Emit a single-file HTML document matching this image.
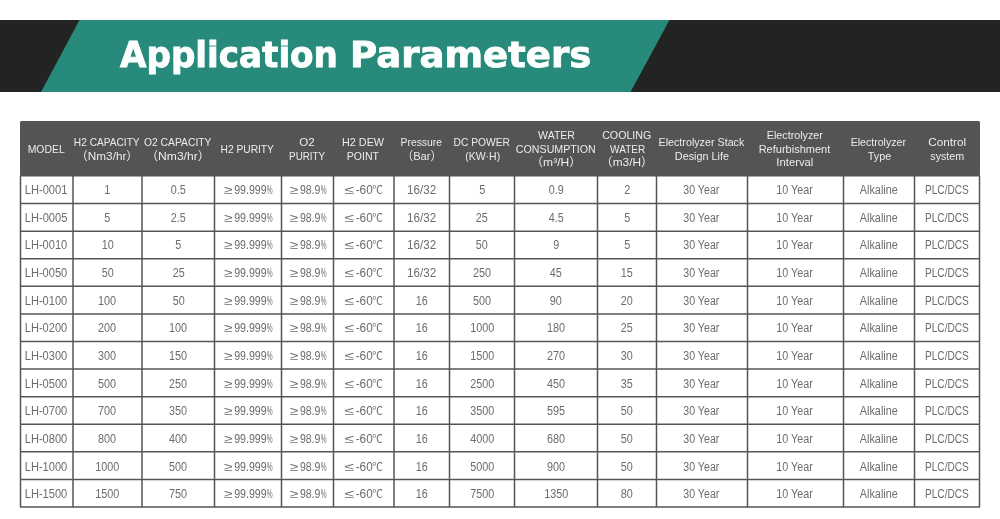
<!DOCTYPE html>
<html lang="en"><head><meta charset="utf-8"><title>Application Parameters</title><style>
html,body{margin:0;padding:0;background:#fff}
body{width:1000px;height:519px;position:relative;overflow:hidden;font-family:"Liberation Sans","Noto Sans CJK SC",sans-serif}
svg.bg{position:absolute;left:0;top:0}
.title{position:absolute;left:0;top:0;margin:0;font-family:"DejaVu Sans","Liberation Sans",sans-serif;font-weight:700;font-size:36.1px;line-height:44px;color:#fcfffe;white-space:nowrap;-webkit-text-stroke:0.9px #fcfffe}
.title span{position:absolute;display:inline-block;transform-origin:0 50%}
.c{position:absolute;text-align:center;white-space:nowrap;overflow:visible}
.h{color:#ececec;font-size:11.8px;line-height:13.6px}
.b{color:#6c6c6c;font-size:12.0px;line-height:27.583px;height:27.583px}
.t{display:inline-block;transform-origin:50% 50%}
.t i{font-style:normal;display:inline-block;transform-origin:0 50%}
.g{transform:scaleX(1.45);margin-right:4.6px}
.p{transform:scaleX(0.62);margin-right:-3.9px}
.d{font-size:11px;margin-left:-0.5px}
</style></head><body>
<svg class="bg" width="1000" height="519" viewBox="0 0 1000 519">
<rect x="0" y="20" width="1000" height="72" fill="#232323"/>
<polygon points="79.5,20 669.5,20 630.5,92 41,92" fill="#278a7a"/>
<rect x="20" y="121.0" width="960" height="55.5" rx="1.5" fill="#545454"/>
<g stroke="#555" stroke-width="1.5" fill="none">
<line x1="20.5" y1="176.0" x2="20.5" y2="507.0"/>
<line x1="73" y1="176.0" x2="73" y2="507.0"/>
<line x1="142" y1="176.0" x2="142" y2="507.0"/>
<line x1="214.5" y1="176.0" x2="214.5" y2="507.0"/>
<line x1="281.5" y1="176.0" x2="281.5" y2="507.0"/>
<line x1="333.5" y1="176.0" x2="333.5" y2="507.0"/>
<line x1="394" y1="176.0" x2="394" y2="507.0"/>
<line x1="449.5" y1="176.0" x2="449.5" y2="507.0"/>
<line x1="514.5" y1="176.0" x2="514.5" y2="507.0"/>
<line x1="597.5" y1="176.0" x2="597.5" y2="507.0"/>
<line x1="656.5" y1="176.0" x2="656.5" y2="507.0"/>
<line x1="747.5" y1="176.0" x2="747.5" y2="507.0"/>
<line x1="843.5" y1="176.0" x2="843.5" y2="507.0"/>
<line x1="914.5" y1="176.0" x2="914.5" y2="507.0"/>
<line x1="979.5" y1="176.0" x2="979.5" y2="507.0"/>
<line x1="20" y1="203.58" x2="980" y2="203.58"/>
<line x1="20" y1="231.17" x2="980" y2="231.17"/>
<line x1="20" y1="258.75" x2="980" y2="258.75"/>
<line x1="20" y1="286.33" x2="980" y2="286.33"/>
<line x1="20" y1="313.92" x2="980" y2="313.92"/>
<line x1="20" y1="341.50" x2="980" y2="341.50"/>
<line x1="20" y1="369.08" x2="980" y2="369.08"/>
<line x1="20" y1="396.67" x2="980" y2="396.67"/>
<line x1="20" y1="424.25" x2="980" y2="424.25"/>
<line x1="20" y1="451.83" x2="980" y2="451.83"/>
<line x1="20" y1="479.42" x2="980" y2="479.42"/>
<line x1="20" y1="507.00" x2="980" y2="507.00"/>
</g>
</svg>
<h1 class="title"><span id="tA" style="left:120.0px;top:32.5px;transform:scaleX(0.9468)">Application</span> <span id="tP" style="left:349.5px;top:32.5px;transform:scaleX(1.0265)">Parameters</span></h1>
<div class="c h" style="left:0.50px;width:92.50px;top:142.80px"><span class="t" id="s0" style="transform:translateX(-0.79px) scaleX(0.8808)">MODEL</span></div>
<div class="c h" style="left:53.00px;width:109.00px;top:136.00px"><span class="t" id="s1" style="transform:translateX(-0.50px) scaleX(0.8600)">H2 CAPACITY</span><br><span class="t" id="s2" style="transform:translateX(-0.05px) scaleX(0.9969)">（Nm3/hr）</span></div>
<div class="c h" style="left:122.00px;width:112.50px;top:136.00px"><span class="t" id="s3" style="transform:translateX(-0.87px) scaleX(0.8764)">O2 CAPACITY</span><br><span class="t" id="s4" style="transform:translateX(-0.24px) scaleX(1.0254)">（Nm3/hr）</span></div>
<div class="c h" style="left:194.50px;width:107.00px;top:142.80px"><span class="t" id="s5" style="transform:translateX(-0.59px) scaleX(0.8669)">H2 PURITY</span></div>
<div class="c h" style="left:261.50px;width:92.00px;top:136.00px"><span class="t" id="s6" style="transform:translateX(-0.83px) scaleX(0.9802)">O2</span><br><span class="t" id="s7" style="transform:translateX(-0.52px) scaleX(0.8333)">PURITY</span></div>
<div class="c h" style="left:313.50px;width:100.50px;top:136.00px"><span class="t" id="s8" style="transform:translateX(-0.91px) scaleX(0.9145)">H2 DEW</span><br><span class="t" id="s9" style="transform:translateX(-1.08px) scaleX(0.8945)">POINT</span></div>
<div class="c h" style="left:374.00px;width:95.50px;top:136.00px"><span class="t" id="s10" style="transform:translateX(-0.37px) scaleX(0.8767)">Pressure</span><br><span class="t" id="s11" style="transform:translateX(-0.14px) scaleX(0.9485)">（Bar）</span></div>
<div class="c h" style="left:429.50px;width:105.00px;top:136.00px"><span class="t" id="s12" style="transform:translateX(-0.69px) scaleX(0.8689)">DC POWER</span><br><span class="t" id="s13" style="transform:translateX(1.01px) scaleX(0.8903)">(KW·H)</span></div>
<div class="c h" style="left:494.50px;width:123.00px;top:129.20px"><span class="t" id="s14" style="transform:translateX(0.88px) scaleX(0.8927)">WATER</span><br><span class="t" id="s15" style="transform:translateX(-0.42px) scaleX(0.9037)">CONSUMPTION</span><br><span class="t" id="s16" style="transform:translateX(0.58px) scaleX(1.0200)">（m³/H）</span></div>
<div class="c h" style="left:577.50px;width:99.00px;top:129.20px"><span class="t" id="s17" style="transform:translateX(-0.47px) scaleX(0.9043)">COOLING</span><br><span class="t" id="s18" style="transform:translateX(1.00px) scaleX(0.8502)">WATER</span><br><span class="t" id="s19" style="transform:translateX(0.01px) scaleX(1.0064)">（m3/H）</span></div>
<div class="c h" style="left:636.50px;width:131.00px;top:136.00px"><span class="t" id="s20" style="transform:translateX(-0.79px) scaleX(0.9092)">Electrolyzer Stack</span><br><span class="t" id="s21" style="transform:translateX(0.42px) scaleX(0.9174)">Design Life</span></div>
<div class="c h" style="left:727.50px;width:136.00px;top:129.20px"><span class="t" id="s22" style="transform:translateX(-0.99px) scaleX(0.9104)">Electrolyzer</span><br><span class="t" id="s23" style="transform:translateX(-0.89px) scaleX(0.9341)">Refurbishment</span><br><span class="t" id="s24" style="transform:translateX(-0.51px) scaleX(0.9556)">Interval</span></div>
<div class="c h" style="left:823.50px;width:111.00px;top:136.00px"><span class="t" id="s25" style="transform:translateX(-0.49px) scaleX(0.8977)">Electrolyzer</span><br><span class="t" id="s26" style="transform:translateX(0.65px) scaleX(0.9193)">Type</span></div>
<div class="c h" style="left:894.50px;width:105.00px;top:136.00px"><span class="t" id="s27" style="transform:translateX(0.21px) scaleX(0.9971)">Control</span><br><span class="t" id="s28" style="transform:translateX(0.57px) scaleX(0.9087)">system</span></div>
<div class="c b" style="left:20.50px;width:52.50px;top:177.00px"><span class="t" id="s29" style="transform:translateX(-0.96px) scaleX(0.9255)">LH-0001</span></div>
<div class="c b" style="left:73.00px;width:69.00px;top:177.00px"><span class="t" id="s30" style="transform:translateX(0.00px) scaleX(0.9000)">1</span></div>
<div class="c b" style="left:142.00px;width:72.50px;top:177.00px"><span class="t" id="s31" style="transform:translateX(0.00px) scaleX(0.9000)">0.5</span></div>
<div class="c b" style="left:214.50px;width:67.00px;top:177.00px"><span class="t" id="s32" style="transform:translateX(0.15px) scaleX(0.8825)"><i class="g">≥</i>99.999<i class="p">%</i></span></div>
<div class="c b" style="left:281.50px;width:52.00px;top:177.00px"><span class="t" id="s33" style="transform:translateX(0.54px) scaleX(0.8785)"><i class="g">≥</i>98.9<i class="p">%</i></span></div>
<div class="c b" style="left:333.50px;width:60.50px;top:177.00px"><span class="t" id="s34" style="transform:translateX(0.34px) scaleX(0.9849)"><i class="g">≤</i>-60<i class="d">℃</i></span></div>
<div class="c b" style="left:394.00px;width:55.50px;top:177.00px"><span class="t" id="s35" style="transform:translateX(-0.43px) scaleX(0.9668)">16/32</span></div>
<div class="c b" style="left:449.50px;width:65.00px;top:177.00px"><span class="t" id="s36" style="transform:translateX(0.00px) scaleX(0.9000)">5</span></div>
<div class="c b" style="left:514.50px;width:83.00px;top:177.00px"><span class="t" id="s37" style="transform:translateX(0.00px) scaleX(0.9000)">0.9</span></div>
<div class="c b" style="left:597.50px;width:59.00px;top:177.00px"><span class="t" id="s38" style="transform:translateX(0.00px) scaleX(0.9000)">2</span></div>
<div class="c b" style="left:656.50px;width:91.00px;top:177.00px"><span class="t" id="s39" style="transform:translateX(-1.05px) scaleX(0.8862)">30 Year</span></div>
<div class="c b" style="left:747.50px;width:96.00px;top:177.00px"><span class="t" id="s40" style="transform:translateX(-0.86px) scaleX(0.8944)">10 Year</span></div>
<div class="c b" style="left:843.50px;width:71.00px;top:177.00px"><span class="t" id="s41" style="transform:translateX(-0.24px) scaleX(0.9023)">Alkaline</span></div>
<div class="c b" style="left:914.50px;width:65.00px;top:177.00px"><span class="t" id="s42" style="transform:translateX(-0.13px) scaleX(0.8422)">PLC/DCS</span></div>
<div class="c b" style="left:20.50px;width:52.50px;top:204.65px"><span class="t" id="s43" style="transform:translateX(-0.96px) scaleX(0.9257)">LH-0005</span></div>
<div class="c b" style="left:73.00px;width:69.00px;top:204.65px"><span class="t" id="s44" style="transform:translateX(0.00px) scaleX(0.9000)">5</span></div>
<div class="c b" style="left:142.00px;width:72.50px;top:204.65px"><span class="t" id="s45" style="transform:translateX(0.00px) scaleX(0.9000)">2.5</span></div>
<div class="c b" style="left:214.50px;width:67.00px;top:204.65px"><span class="t" id="s46" style="transform:translateX(0.15px) scaleX(0.8825)"><i class="g">≥</i>99.999<i class="p">%</i></span></div>
<div class="c b" style="left:281.50px;width:52.00px;top:204.65px"><span class="t" id="s47" style="transform:translateX(0.54px) scaleX(0.8785)"><i class="g">≥</i>98.9<i class="p">%</i></span></div>
<div class="c b" style="left:333.50px;width:60.50px;top:204.65px"><span class="t" id="s48" style="transform:translateX(0.34px) scaleX(0.9849)"><i class="g">≤</i>-60<i class="d">℃</i></span></div>
<div class="c b" style="left:394.00px;width:55.50px;top:204.65px"><span class="t" id="s49" style="transform:translateX(-0.43px) scaleX(0.9668)">16/32</span></div>
<div class="c b" style="left:449.50px;width:65.00px;top:204.65px"><span class="t" id="s50" style="transform:translateX(0.00px) scaleX(0.9000)">25</span></div>
<div class="c b" style="left:514.50px;width:83.00px;top:204.65px"><span class="t" id="s51" style="transform:translateX(0.00px) scaleX(0.9000)">4.5</span></div>
<div class="c b" style="left:597.50px;width:59.00px;top:204.65px"><span class="t" id="s52" style="transform:translateX(0.00px) scaleX(0.9000)">5</span></div>
<div class="c b" style="left:656.50px;width:91.00px;top:204.65px"><span class="t" id="s53" style="transform:translateX(-1.05px) scaleX(0.8862)">30 Year</span></div>
<div class="c b" style="left:747.50px;width:96.00px;top:204.65px"><span class="t" id="s54" style="transform:translateX(-0.86px) scaleX(0.8944)">10 Year</span></div>
<div class="c b" style="left:843.50px;width:71.00px;top:204.65px"><span class="t" id="s55" style="transform:translateX(-0.24px) scaleX(0.9023)">Alkaline</span></div>
<div class="c b" style="left:914.50px;width:65.00px;top:204.65px"><span class="t" id="s56" style="transform:translateX(-0.13px) scaleX(0.8422)">PLC/DCS</span></div>
<div class="c b" style="left:20.50px;width:52.50px;top:232.31px"><span class="t" id="s57" style="transform:translateX(-1.01px) scaleX(0.9233)">LH-0010</span></div>
<div class="c b" style="left:73.00px;width:69.00px;top:232.31px"><span class="t" id="s58" style="transform:translateX(0.00px) scaleX(0.9000)">10</span></div>
<div class="c b" style="left:142.00px;width:72.50px;top:232.31px"><span class="t" id="s59" style="transform:translateX(0.00px) scaleX(0.9000)">5</span></div>
<div class="c b" style="left:214.50px;width:67.00px;top:232.31px"><span class="t" id="s60" style="transform:translateX(0.15px) scaleX(0.8825)"><i class="g">≥</i>99.999<i class="p">%</i></span></div>
<div class="c b" style="left:281.50px;width:52.00px;top:232.31px"><span class="t" id="s61" style="transform:translateX(0.54px) scaleX(0.8785)"><i class="g">≥</i>98.9<i class="p">%</i></span></div>
<div class="c b" style="left:333.50px;width:60.50px;top:232.31px"><span class="t" id="s62" style="transform:translateX(0.34px) scaleX(0.9849)"><i class="g">≤</i>-60<i class="d">℃</i></span></div>
<div class="c b" style="left:394.00px;width:55.50px;top:232.31px"><span class="t" id="s63" style="transform:translateX(-0.43px) scaleX(0.9668)">16/32</span></div>
<div class="c b" style="left:449.50px;width:65.00px;top:232.31px"><span class="t" id="s64" style="transform:translateX(0.00px) scaleX(0.9000)">50</span></div>
<div class="c b" style="left:514.50px;width:83.00px;top:232.31px"><span class="t" id="s65" style="transform:translateX(0.00px) scaleX(0.9000)">9</span></div>
<div class="c b" style="left:597.50px;width:59.00px;top:232.31px"><span class="t" id="s66" style="transform:translateX(0.00px) scaleX(0.9000)">5</span></div>
<div class="c b" style="left:656.50px;width:91.00px;top:232.31px"><span class="t" id="s67" style="transform:translateX(-1.05px) scaleX(0.8862)">30 Year</span></div>
<div class="c b" style="left:747.50px;width:96.00px;top:232.31px"><span class="t" id="s68" style="transform:translateX(-0.86px) scaleX(0.8944)">10 Year</span></div>
<div class="c b" style="left:843.50px;width:71.00px;top:232.31px"><span class="t" id="s69" style="transform:translateX(-0.24px) scaleX(0.9023)">Alkaline</span></div>
<div class="c b" style="left:914.50px;width:65.00px;top:232.31px"><span class="t" id="s70" style="transform:translateX(-0.13px) scaleX(0.8422)">PLC/DCS</span></div>
<div class="c b" style="left:20.50px;width:52.50px;top:259.96px"><span class="t" id="s71" style="transform:translateX(-1.01px) scaleX(0.9233)">LH-0050</span></div>
<div class="c b" style="left:73.00px;width:69.00px;top:259.96px"><span class="t" id="s72" style="transform:translateX(0.00px) scaleX(0.9000)">50</span></div>
<div class="c b" style="left:142.00px;width:72.50px;top:259.96px"><span class="t" id="s73" style="transform:translateX(0.00px) scaleX(0.9000)">25</span></div>
<div class="c b" style="left:214.50px;width:67.00px;top:259.96px"><span class="t" id="s74" style="transform:translateX(0.15px) scaleX(0.8825)"><i class="g">≥</i>99.999<i class="p">%</i></span></div>
<div class="c b" style="left:281.50px;width:52.00px;top:259.96px"><span class="t" id="s75" style="transform:translateX(0.54px) scaleX(0.8785)"><i class="g">≥</i>98.9<i class="p">%</i></span></div>
<div class="c b" style="left:333.50px;width:60.50px;top:259.96px"><span class="t" id="s76" style="transform:translateX(0.34px) scaleX(0.9849)"><i class="g">≤</i>-60<i class="d">℃</i></span></div>
<div class="c b" style="left:394.00px;width:55.50px;top:259.96px"><span class="t" id="s77" style="transform:translateX(-0.43px) scaleX(0.9668)">16/32</span></div>
<div class="c b" style="left:449.50px;width:65.00px;top:259.96px"><span class="t" id="s78" style="transform:translateX(0.00px) scaleX(0.9000)">250</span></div>
<div class="c b" style="left:514.50px;width:83.00px;top:259.96px"><span class="t" id="s79" style="transform:translateX(0.00px) scaleX(0.9000)">45</span></div>
<div class="c b" style="left:597.50px;width:59.00px;top:259.96px"><span class="t" id="s80" style="transform:translateX(0.00px) scaleX(0.9000)">15</span></div>
<div class="c b" style="left:656.50px;width:91.00px;top:259.96px"><span class="t" id="s81" style="transform:translateX(-1.05px) scaleX(0.8862)">30 Year</span></div>
<div class="c b" style="left:747.50px;width:96.00px;top:259.96px"><span class="t" id="s82" style="transform:translateX(-0.86px) scaleX(0.8944)">10 Year</span></div>
<div class="c b" style="left:843.50px;width:71.00px;top:259.96px"><span class="t" id="s83" style="transform:translateX(-0.24px) scaleX(0.9023)">Alkaline</span></div>
<div class="c b" style="left:914.50px;width:65.00px;top:259.96px"><span class="t" id="s84" style="transform:translateX(-0.13px) scaleX(0.8422)">PLC/DCS</span></div>
<div class="c b" style="left:20.50px;width:52.50px;top:287.61px"><span class="t" id="s85" style="transform:translateX(-1.01px) scaleX(0.9233)">LH-0100</span></div>
<div class="c b" style="left:73.00px;width:69.00px;top:287.61px"><span class="t" id="s86" style="transform:translateX(0.00px) scaleX(0.9000)">100</span></div>
<div class="c b" style="left:142.00px;width:72.50px;top:287.61px"><span class="t" id="s87" style="transform:translateX(0.00px) scaleX(0.9000)">50</span></div>
<div class="c b" style="left:214.50px;width:67.00px;top:287.61px"><span class="t" id="s88" style="transform:translateX(0.15px) scaleX(0.8825)"><i class="g">≥</i>99.999<i class="p">%</i></span></div>
<div class="c b" style="left:281.50px;width:52.00px;top:287.61px"><span class="t" id="s89" style="transform:translateX(0.54px) scaleX(0.8785)"><i class="g">≥</i>98.9<i class="p">%</i></span></div>
<div class="c b" style="left:333.50px;width:60.50px;top:287.61px"><span class="t" id="s90" style="transform:translateX(0.34px) scaleX(0.9849)"><i class="g">≤</i>-60<i class="d">℃</i></span></div>
<div class="c b" style="left:394.00px;width:55.50px;top:287.61px"><span class="t" id="s91" style="transform:translateX(0.00px) scaleX(0.9000)">16</span></div>
<div class="c b" style="left:449.50px;width:65.00px;top:287.61px"><span class="t" id="s92" style="transform:translateX(0.00px) scaleX(0.9000)">500</span></div>
<div class="c b" style="left:514.50px;width:83.00px;top:287.61px"><span class="t" id="s93" style="transform:translateX(0.00px) scaleX(0.9000)">90</span></div>
<div class="c b" style="left:597.50px;width:59.00px;top:287.61px"><span class="t" id="s94" style="transform:translateX(0.00px) scaleX(0.9000)">20</span></div>
<div class="c b" style="left:656.50px;width:91.00px;top:287.61px"><span class="t" id="s95" style="transform:translateX(-1.05px) scaleX(0.8862)">30 Year</span></div>
<div class="c b" style="left:747.50px;width:96.00px;top:287.61px"><span class="t" id="s96" style="transform:translateX(-0.86px) scaleX(0.8944)">10 Year</span></div>
<div class="c b" style="left:843.50px;width:71.00px;top:287.61px"><span class="t" id="s97" style="transform:translateX(-0.24px) scaleX(0.9023)">Alkaline</span></div>
<div class="c b" style="left:914.50px;width:65.00px;top:287.61px"><span class="t" id="s98" style="transform:translateX(-0.13px) scaleX(0.8422)">PLC/DCS</span></div>
<div class="c b" style="left:20.50px;width:52.50px;top:315.27px"><span class="t" id="s99" style="transform:translateX(-1.01px) scaleX(0.9233)">LH-0200</span></div>
<div class="c b" style="left:73.00px;width:69.00px;top:315.27px"><span class="t" id="s100" style="transform:translateX(0.00px) scaleX(0.9000)">200</span></div>
<div class="c b" style="left:142.00px;width:72.50px;top:315.27px"><span class="t" id="s101" style="transform:translateX(0.00px) scaleX(0.9000)">100</span></div>
<div class="c b" style="left:214.50px;width:67.00px;top:315.27px"><span class="t" id="s102" style="transform:translateX(0.15px) scaleX(0.8825)"><i class="g">≥</i>99.999<i class="p">%</i></span></div>
<div class="c b" style="left:281.50px;width:52.00px;top:315.27px"><span class="t" id="s103" style="transform:translateX(0.54px) scaleX(0.8785)"><i class="g">≥</i>98.9<i class="p">%</i></span></div>
<div class="c b" style="left:333.50px;width:60.50px;top:315.27px"><span class="t" id="s104" style="transform:translateX(0.34px) scaleX(0.9849)"><i class="g">≤</i>-60<i class="d">℃</i></span></div>
<div class="c b" style="left:394.00px;width:55.50px;top:315.27px"><span class="t" id="s105" style="transform:translateX(0.00px) scaleX(0.9000)">16</span></div>
<div class="c b" style="left:449.50px;width:65.00px;top:315.27px"><span class="t" id="s106" style="transform:translateX(0.00px) scaleX(0.9000)">1000</span></div>
<div class="c b" style="left:514.50px;width:83.00px;top:315.27px"><span class="t" id="s107" style="transform:translateX(0.00px) scaleX(0.9000)">180</span></div>
<div class="c b" style="left:597.50px;width:59.00px;top:315.27px"><span class="t" id="s108" style="transform:translateX(0.00px) scaleX(0.9000)">25</span></div>
<div class="c b" style="left:656.50px;width:91.00px;top:315.27px"><span class="t" id="s109" style="transform:translateX(-1.05px) scaleX(0.8862)">30 Year</span></div>
<div class="c b" style="left:747.50px;width:96.00px;top:315.27px"><span class="t" id="s110" style="transform:translateX(-0.86px) scaleX(0.8944)">10 Year</span></div>
<div class="c b" style="left:843.50px;width:71.00px;top:315.27px"><span class="t" id="s111" style="transform:translateX(-0.24px) scaleX(0.9023)">Alkaline</span></div>
<div class="c b" style="left:914.50px;width:65.00px;top:315.27px"><span class="t" id="s112" style="transform:translateX(-0.13px) scaleX(0.8422)">PLC/DCS</span></div>
<div class="c b" style="left:20.50px;width:52.50px;top:342.92px"><span class="t" id="s113" style="transform:translateX(-1.01px) scaleX(0.9233)">LH-0300</span></div>
<div class="c b" style="left:73.00px;width:69.00px;top:342.92px"><span class="t" id="s114" style="transform:translateX(0.00px) scaleX(0.9000)">300</span></div>
<div class="c b" style="left:142.00px;width:72.50px;top:342.92px"><span class="t" id="s115" style="transform:translateX(0.00px) scaleX(0.9000)">150</span></div>
<div class="c b" style="left:214.50px;width:67.00px;top:342.92px"><span class="t" id="s116" style="transform:translateX(0.15px) scaleX(0.8825)"><i class="g">≥</i>99.999<i class="p">%</i></span></div>
<div class="c b" style="left:281.50px;width:52.00px;top:342.92px"><span class="t" id="s117" style="transform:translateX(0.54px) scaleX(0.8785)"><i class="g">≥</i>98.9<i class="p">%</i></span></div>
<div class="c b" style="left:333.50px;width:60.50px;top:342.92px"><span class="t" id="s118" style="transform:translateX(0.34px) scaleX(0.9849)"><i class="g">≤</i>-60<i class="d">℃</i></span></div>
<div class="c b" style="left:394.00px;width:55.50px;top:342.92px"><span class="t" id="s119" style="transform:translateX(0.00px) scaleX(0.9000)">16</span></div>
<div class="c b" style="left:449.50px;width:65.00px;top:342.92px"><span class="t" id="s120" style="transform:translateX(0.00px) scaleX(0.9000)">1500</span></div>
<div class="c b" style="left:514.50px;width:83.00px;top:342.92px"><span class="t" id="s121" style="transform:translateX(0.00px) scaleX(0.9000)">270</span></div>
<div class="c b" style="left:597.50px;width:59.00px;top:342.92px"><span class="t" id="s122" style="transform:translateX(0.00px) scaleX(0.9000)">30</span></div>
<div class="c b" style="left:656.50px;width:91.00px;top:342.92px"><span class="t" id="s123" style="transform:translateX(-1.05px) scaleX(0.8862)">30 Year</span></div>
<div class="c b" style="left:747.50px;width:96.00px;top:342.92px"><span class="t" id="s124" style="transform:translateX(-0.86px) scaleX(0.8944)">10 Year</span></div>
<div class="c b" style="left:843.50px;width:71.00px;top:342.92px"><span class="t" id="s125" style="transform:translateX(-0.24px) scaleX(0.9023)">Alkaline</span></div>
<div class="c b" style="left:914.50px;width:65.00px;top:342.92px"><span class="t" id="s126" style="transform:translateX(-0.13px) scaleX(0.8422)">PLC/DCS</span></div>
<div class="c b" style="left:20.50px;width:52.50px;top:370.57px"><span class="t" id="s127" style="transform:translateX(-1.01px) scaleX(0.9233)">LH-0500</span></div>
<div class="c b" style="left:73.00px;width:69.00px;top:370.57px"><span class="t" id="s128" style="transform:translateX(0.00px) scaleX(0.9000)">500</span></div>
<div class="c b" style="left:142.00px;width:72.50px;top:370.57px"><span class="t" id="s129" style="transform:translateX(0.00px) scaleX(0.9000)">250</span></div>
<div class="c b" style="left:214.50px;width:67.00px;top:370.57px"><span class="t" id="s130" style="transform:translateX(0.15px) scaleX(0.8825)"><i class="g">≥</i>99.999<i class="p">%</i></span></div>
<div class="c b" style="left:281.50px;width:52.00px;top:370.57px"><span class="t" id="s131" style="transform:translateX(0.54px) scaleX(0.8785)"><i class="g">≥</i>98.9<i class="p">%</i></span></div>
<div class="c b" style="left:333.50px;width:60.50px;top:370.57px"><span class="t" id="s132" style="transform:translateX(0.34px) scaleX(0.9849)"><i class="g">≤</i>-60<i class="d">℃</i></span></div>
<div class="c b" style="left:394.00px;width:55.50px;top:370.57px"><span class="t" id="s133" style="transform:translateX(0.00px) scaleX(0.9000)">16</span></div>
<div class="c b" style="left:449.50px;width:65.00px;top:370.57px"><span class="t" id="s134" style="transform:translateX(0.00px) scaleX(0.9000)">2500</span></div>
<div class="c b" style="left:514.50px;width:83.00px;top:370.57px"><span class="t" id="s135" style="transform:translateX(0.00px) scaleX(0.9000)">450</span></div>
<div class="c b" style="left:597.50px;width:59.00px;top:370.57px"><span class="t" id="s136" style="transform:translateX(0.00px) scaleX(0.9000)">35</span></div>
<div class="c b" style="left:656.50px;width:91.00px;top:370.57px"><span class="t" id="s137" style="transform:translateX(-1.05px) scaleX(0.8862)">30 Year</span></div>
<div class="c b" style="left:747.50px;width:96.00px;top:370.57px"><span class="t" id="s138" style="transform:translateX(-0.86px) scaleX(0.8944)">10 Year</span></div>
<div class="c b" style="left:843.50px;width:71.00px;top:370.57px"><span class="t" id="s139" style="transform:translateX(-0.24px) scaleX(0.9023)">Alkaline</span></div>
<div class="c b" style="left:914.50px;width:65.00px;top:370.57px"><span class="t" id="s140" style="transform:translateX(-0.13px) scaleX(0.8422)">PLC/DCS</span></div>
<div class="c b" style="left:20.50px;width:52.50px;top:398.23px"><span class="t" id="s141" style="transform:translateX(-1.01px) scaleX(0.9233)">LH-0700</span></div>
<div class="c b" style="left:73.00px;width:69.00px;top:398.23px"><span class="t" id="s142" style="transform:translateX(0.00px) scaleX(0.9000)">700</span></div>
<div class="c b" style="left:142.00px;width:72.50px;top:398.23px"><span class="t" id="s143" style="transform:translateX(0.00px) scaleX(0.9000)">350</span></div>
<div class="c b" style="left:214.50px;width:67.00px;top:398.23px"><span class="t" id="s144" style="transform:translateX(0.15px) scaleX(0.8825)"><i class="g">≥</i>99.999<i class="p">%</i></span></div>
<div class="c b" style="left:281.50px;width:52.00px;top:398.23px"><span class="t" id="s145" style="transform:translateX(0.54px) scaleX(0.8785)"><i class="g">≥</i>98.9<i class="p">%</i></span></div>
<div class="c b" style="left:333.50px;width:60.50px;top:398.23px"><span class="t" id="s146" style="transform:translateX(0.34px) scaleX(0.9849)"><i class="g">≤</i>-60<i class="d">℃</i></span></div>
<div class="c b" style="left:394.00px;width:55.50px;top:398.23px"><span class="t" id="s147" style="transform:translateX(0.00px) scaleX(0.9000)">16</span></div>
<div class="c b" style="left:449.50px;width:65.00px;top:398.23px"><span class="t" id="s148" style="transform:translateX(0.00px) scaleX(0.9000)">3500</span></div>
<div class="c b" style="left:514.50px;width:83.00px;top:398.23px"><span class="t" id="s149" style="transform:translateX(0.00px) scaleX(0.9000)">595</span></div>
<div class="c b" style="left:597.50px;width:59.00px;top:398.23px"><span class="t" id="s150" style="transform:translateX(0.00px) scaleX(0.9000)">50</span></div>
<div class="c b" style="left:656.50px;width:91.00px;top:398.23px"><span class="t" id="s151" style="transform:translateX(-1.05px) scaleX(0.8862)">30 Year</span></div>
<div class="c b" style="left:747.50px;width:96.00px;top:398.23px"><span class="t" id="s152" style="transform:translateX(-0.86px) scaleX(0.8944)">10 Year</span></div>
<div class="c b" style="left:843.50px;width:71.00px;top:398.23px"><span class="t" id="s153" style="transform:translateX(-0.24px) scaleX(0.9023)">Alkaline</span></div>
<div class="c b" style="left:914.50px;width:65.00px;top:398.23px"><span class="t" id="s154" style="transform:translateX(-0.13px) scaleX(0.8422)">PLC/DCS</span></div>
<div class="c b" style="left:20.50px;width:52.50px;top:425.88px"><span class="t" id="s155" style="transform:translateX(-1.01px) scaleX(0.9233)">LH-0800</span></div>
<div class="c b" style="left:73.00px;width:69.00px;top:425.88px"><span class="t" id="s156" style="transform:translateX(0.00px) scaleX(0.9000)">800</span></div>
<div class="c b" style="left:142.00px;width:72.50px;top:425.88px"><span class="t" id="s157" style="transform:translateX(0.00px) scaleX(0.9000)">400</span></div>
<div class="c b" style="left:214.50px;width:67.00px;top:425.88px"><span class="t" id="s158" style="transform:translateX(0.15px) scaleX(0.8825)"><i class="g">≥</i>99.999<i class="p">%</i></span></div>
<div class="c b" style="left:281.50px;width:52.00px;top:425.88px"><span class="t" id="s159" style="transform:translateX(0.54px) scaleX(0.8785)"><i class="g">≥</i>98.9<i class="p">%</i></span></div>
<div class="c b" style="left:333.50px;width:60.50px;top:425.88px"><span class="t" id="s160" style="transform:translateX(0.34px) scaleX(0.9849)"><i class="g">≤</i>-60<i class="d">℃</i></span></div>
<div class="c b" style="left:394.00px;width:55.50px;top:425.88px"><span class="t" id="s161" style="transform:translateX(0.00px) scaleX(0.9000)">16</span></div>
<div class="c b" style="left:449.50px;width:65.00px;top:425.88px"><span class="t" id="s162" style="transform:translateX(0.00px) scaleX(0.9000)">4000</span></div>
<div class="c b" style="left:514.50px;width:83.00px;top:425.88px"><span class="t" id="s163" style="transform:translateX(0.00px) scaleX(0.9000)">680</span></div>
<div class="c b" style="left:597.50px;width:59.00px;top:425.88px"><span class="t" id="s164" style="transform:translateX(0.00px) scaleX(0.9000)">50</span></div>
<div class="c b" style="left:656.50px;width:91.00px;top:425.88px"><span class="t" id="s165" style="transform:translateX(-1.05px) scaleX(0.8862)">30 Year</span></div>
<div class="c b" style="left:747.50px;width:96.00px;top:425.88px"><span class="t" id="s166" style="transform:translateX(-0.86px) scaleX(0.8944)">10 Year</span></div>
<div class="c b" style="left:843.50px;width:71.00px;top:425.88px"><span class="t" id="s167" style="transform:translateX(-0.24px) scaleX(0.9023)">Alkaline</span></div>
<div class="c b" style="left:914.50px;width:65.00px;top:425.88px"><span class="t" id="s168" style="transform:translateX(-0.13px) scaleX(0.8422)">PLC/DCS</span></div>
<div class="c b" style="left:20.50px;width:52.50px;top:453.53px"><span class="t" id="s169" style="transform:translateX(-1.01px) scaleX(0.9233)">LH-1000</span></div>
<div class="c b" style="left:73.00px;width:69.00px;top:453.53px"><span class="t" id="s170" style="transform:translateX(0.00px) scaleX(0.9000)">1000</span></div>
<div class="c b" style="left:142.00px;width:72.50px;top:453.53px"><span class="t" id="s171" style="transform:translateX(0.00px) scaleX(0.9000)">500</span></div>
<div class="c b" style="left:214.50px;width:67.00px;top:453.53px"><span class="t" id="s172" style="transform:translateX(0.15px) scaleX(0.8825)"><i class="g">≥</i>99.999<i class="p">%</i></span></div>
<div class="c b" style="left:281.50px;width:52.00px;top:453.53px"><span class="t" id="s173" style="transform:translateX(0.54px) scaleX(0.8785)"><i class="g">≥</i>98.9<i class="p">%</i></span></div>
<div class="c b" style="left:333.50px;width:60.50px;top:453.53px"><span class="t" id="s174" style="transform:translateX(0.34px) scaleX(0.9849)"><i class="g">≤</i>-60<i class="d">℃</i></span></div>
<div class="c b" style="left:394.00px;width:55.50px;top:453.53px"><span class="t" id="s175" style="transform:translateX(0.00px) scaleX(0.9000)">16</span></div>
<div class="c b" style="left:449.50px;width:65.00px;top:453.53px"><span class="t" id="s176" style="transform:translateX(0.00px) scaleX(0.9000)">5000</span></div>
<div class="c b" style="left:514.50px;width:83.00px;top:453.53px"><span class="t" id="s177" style="transform:translateX(0.00px) scaleX(0.9000)">900</span></div>
<div class="c b" style="left:597.50px;width:59.00px;top:453.53px"><span class="t" id="s178" style="transform:translateX(0.00px) scaleX(0.9000)">50</span></div>
<div class="c b" style="left:656.50px;width:91.00px;top:453.53px"><span class="t" id="s179" style="transform:translateX(-1.05px) scaleX(0.8862)">30 Year</span></div>
<div class="c b" style="left:747.50px;width:96.00px;top:453.53px"><span class="t" id="s180" style="transform:translateX(-0.86px) scaleX(0.8944)">10 Year</span></div>
<div class="c b" style="left:843.50px;width:71.00px;top:453.53px"><span class="t" id="s181" style="transform:translateX(-0.24px) scaleX(0.9023)">Alkaline</span></div>
<div class="c b" style="left:914.50px;width:65.00px;top:453.53px"><span class="t" id="s182" style="transform:translateX(-0.13px) scaleX(0.8422)">PLC/DCS</span></div>
<div class="c b" style="left:20.50px;width:52.50px;top:481.19px"><span class="t" id="s183" style="transform:translateX(-1.01px) scaleX(0.9233)">LH-1500</span></div>
<div class="c b" style="left:73.00px;width:69.00px;top:481.19px"><span class="t" id="s184" style="transform:translateX(0.00px) scaleX(0.9000)">1500</span></div>
<div class="c b" style="left:142.00px;width:72.50px;top:481.19px"><span class="t" id="s185" style="transform:translateX(0.00px) scaleX(0.9000)">750</span></div>
<div class="c b" style="left:214.50px;width:67.00px;top:481.19px"><span class="t" id="s186" style="transform:translateX(0.15px) scaleX(0.8825)"><i class="g">≥</i>99.999<i class="p">%</i></span></div>
<div class="c b" style="left:281.50px;width:52.00px;top:481.19px"><span class="t" id="s187" style="transform:translateX(0.54px) scaleX(0.8785)"><i class="g">≥</i>98.9<i class="p">%</i></span></div>
<div class="c b" style="left:333.50px;width:60.50px;top:481.19px"><span class="t" id="s188" style="transform:translateX(0.34px) scaleX(0.9849)"><i class="g">≤</i>-60<i class="d">℃</i></span></div>
<div class="c b" style="left:394.00px;width:55.50px;top:481.19px"><span class="t" id="s189" style="transform:translateX(0.00px) scaleX(0.9000)">16</span></div>
<div class="c b" style="left:449.50px;width:65.00px;top:481.19px"><span class="t" id="s190" style="transform:translateX(0.00px) scaleX(0.9000)">7500</span></div>
<div class="c b" style="left:514.50px;width:83.00px;top:481.19px"><span class="t" id="s191" style="transform:translateX(0.00px) scaleX(0.9000)">1350</span></div>
<div class="c b" style="left:597.50px;width:59.00px;top:481.19px"><span class="t" id="s192" style="transform:translateX(0.00px) scaleX(0.9000)">80</span></div>
<div class="c b" style="left:656.50px;width:91.00px;top:481.19px"><span class="t" id="s193" style="transform:translateX(-1.05px) scaleX(0.8862)">30 Year</span></div>
<div class="c b" style="left:747.50px;width:96.00px;top:481.19px"><span class="t" id="s194" style="transform:translateX(-0.86px) scaleX(0.8944)">10 Year</span></div>
<div class="c b" style="left:843.50px;width:71.00px;top:481.19px"><span class="t" id="s195" style="transform:translateX(-0.24px) scaleX(0.9023)">Alkaline</span></div>
<div class="c b" style="left:914.50px;width:65.00px;top:481.19px"><span class="t" id="s196" style="transform:translateX(-0.13px) scaleX(0.8422)">PLC/DCS</span></div>
</body></html>
